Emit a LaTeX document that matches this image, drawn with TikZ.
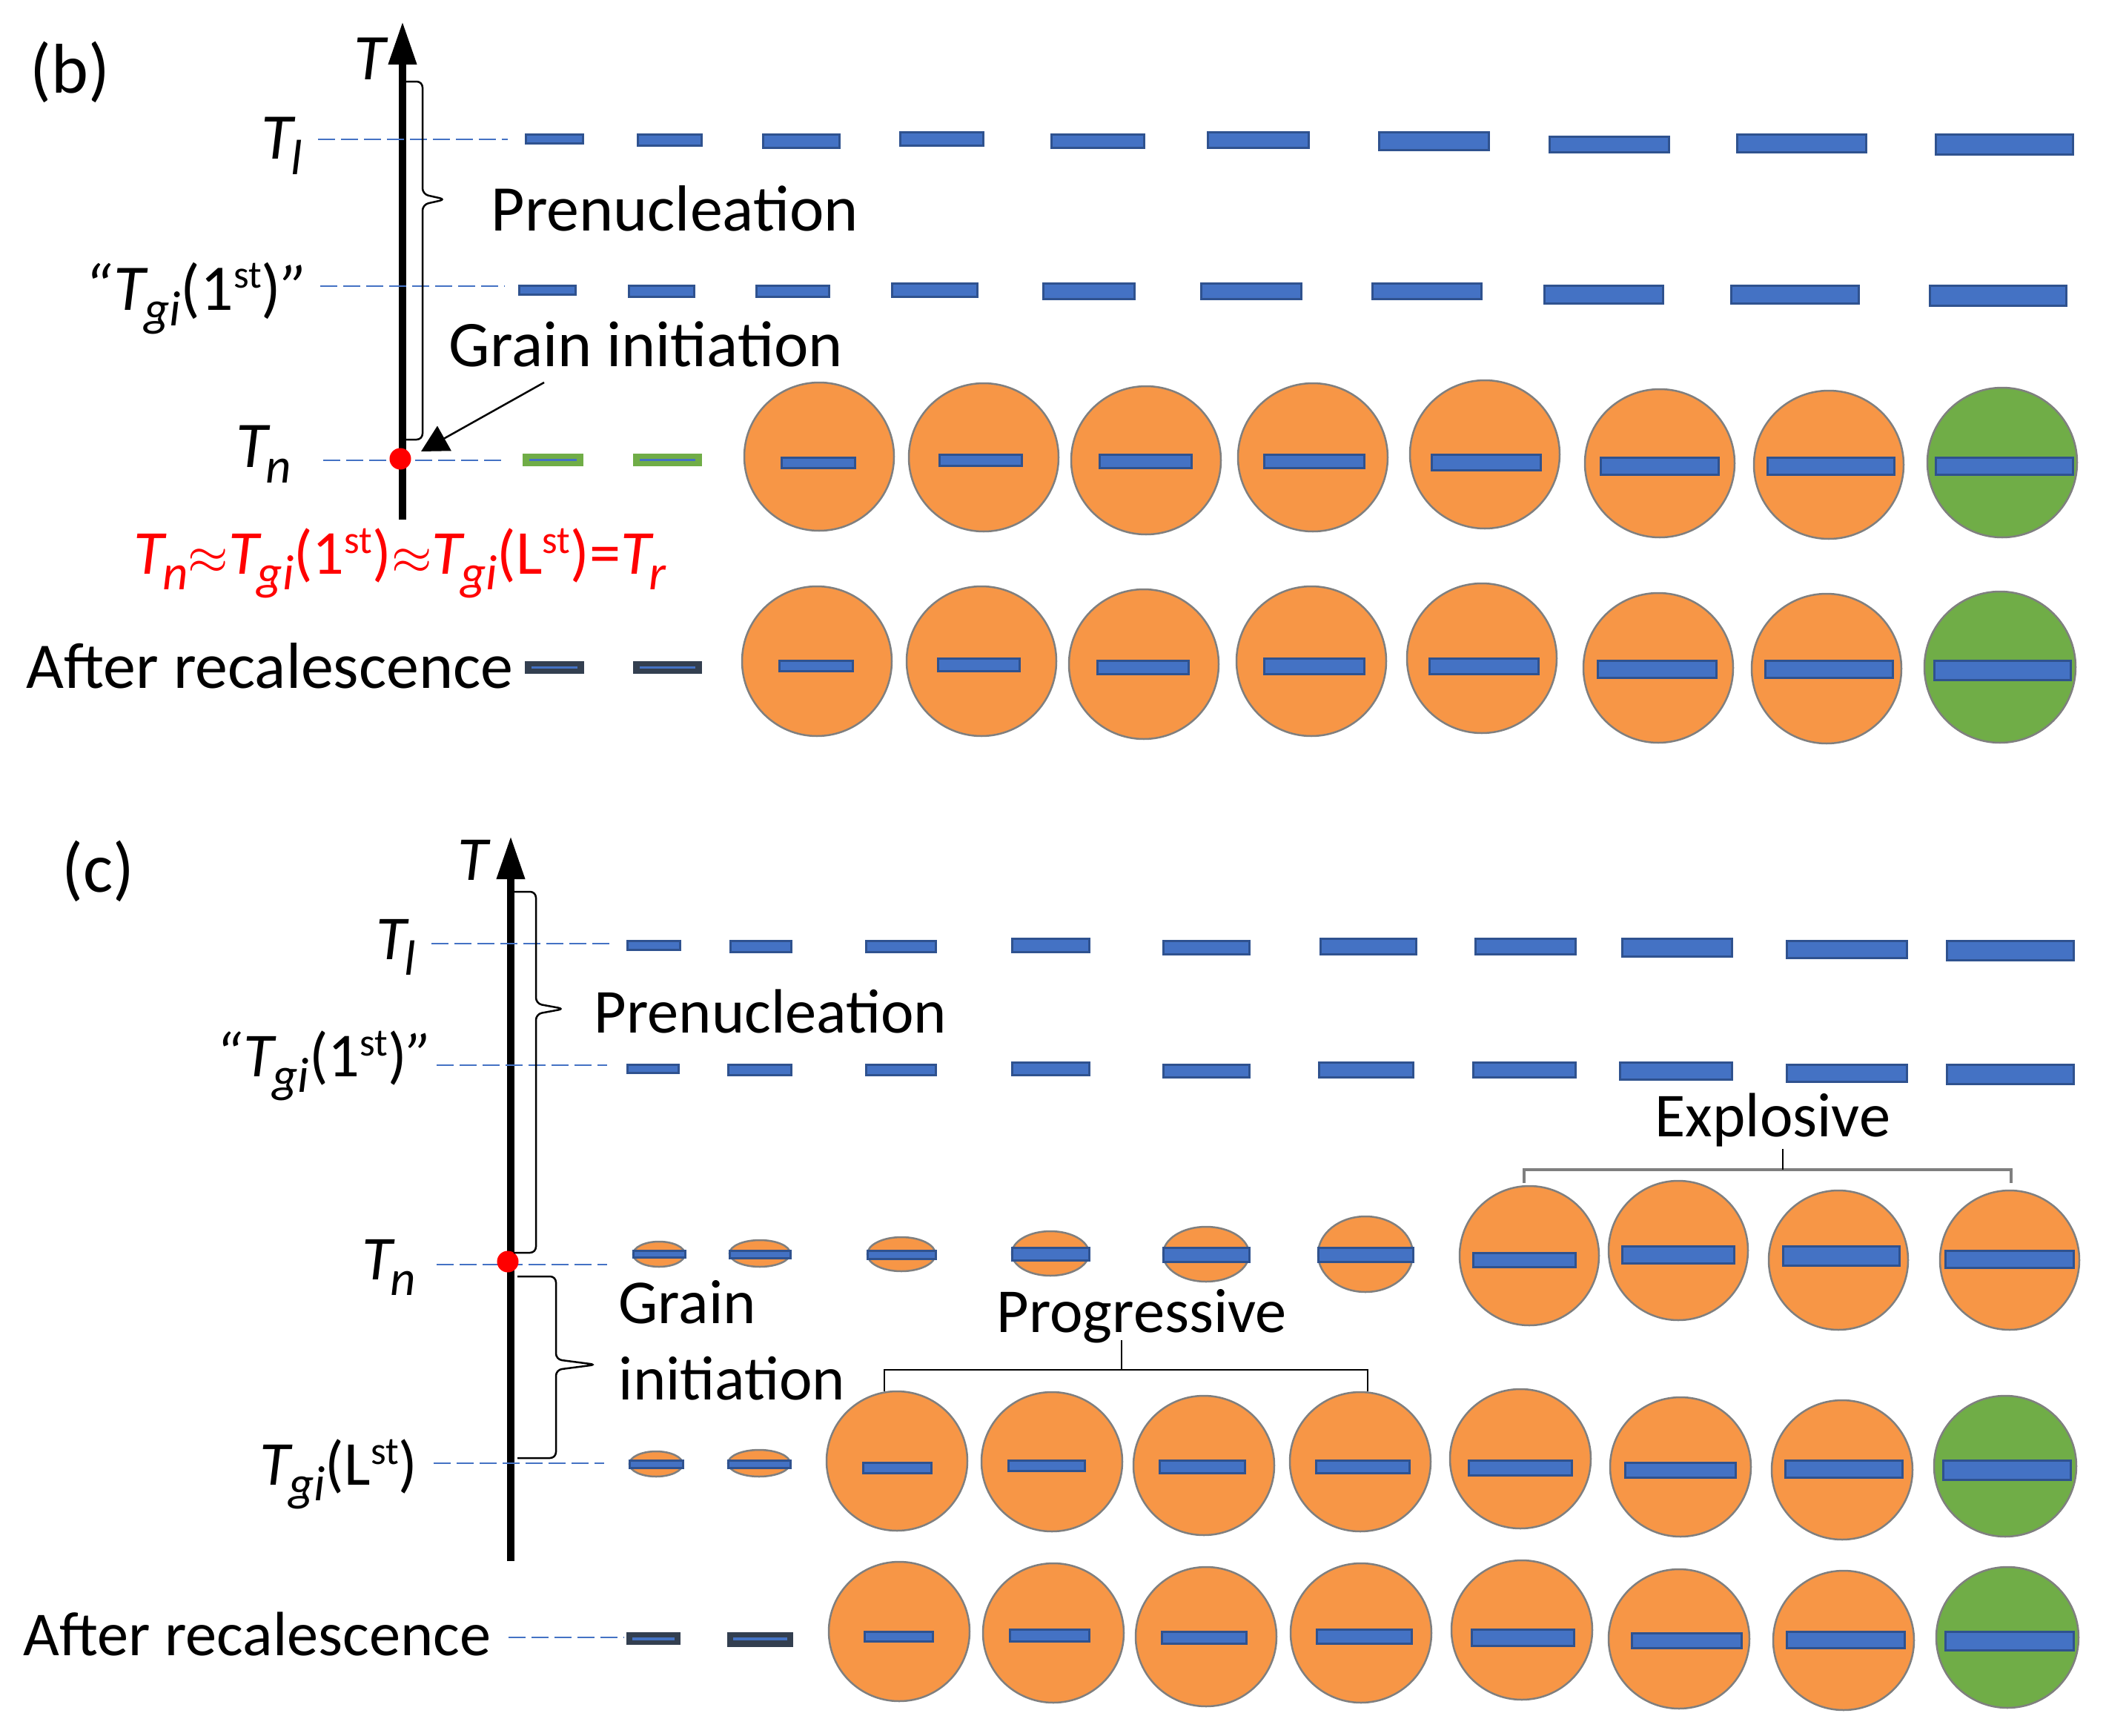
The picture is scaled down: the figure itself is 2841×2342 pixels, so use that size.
\documentclass[tikz,border=0pt]{standalone}
\usepackage{fontspec}
\setmainfont{Carlito}
\usepackage{tikz}
\usetikzlibrary{arrows.meta}
\usetikzlibrary{positioning}
\definecolor{barblue}{HTML}{4472C4}
\definecolor{barline}{HTML}{2F528F}
\definecolor{grainorange}{HTML}{F79646}
\definecolor{graingreen}{HTML}{70AD47}
\definecolor{darkbar}{HTML}{333F50}
\definecolor{rimgray}{HTML}{7F7F7F}
\tikzset{
	lbl/.style={font=\fontsize{24}{28}\selectfont, inner sep=0pt},
	lblb/.style={font=\fontsize{25}{30}\selectfont, inner sep=0pt},
	taxis/.style={draw=black, line width=1mm, -{Triangle[length=5.8mm, width=3.6mm]}},
	guide/.style={draw=barblue, line width=0.25mm, dash pattern=on 2.3mm off 0.8mm},
	cluster/.style={fill=barblue, draw=barline, line width=0.3mm},
	greenbar/.style={fill=graingreen, draw=graingreen, line width=0.2mm},
	darkclus/.style={fill=darkbar, draw=darkbar, line width=0.2mm},
	grain/.style={fill=grainorange, draw=rimgray, line width=0.25mm},
	greengrain/.style={fill=graingreen, draw=rimgray, line width=0.25mm},
	nucleus/.style={circle, fill=red, inner sep=0pt, minimum size=2.9mm},
	rbrace/.style={draw=black, line width=0.25mm, rounded corners=0.8mm},
	pointer/.style={draw=black, line width=0.25mm, -{Triangle[length=3.6mm, width=3.8mm]}},
	bracket/.style={draw=black, line width=0.25mm},
	graybracket/.style={draw=rimgray, line width=0.45mm},
}
\newcommand{\lowsub}[1]{\kern-0.07em\raisebox{-0.25em}{\fontsize{19}{19}\selectfont\itshape #1}}
\newcommand{\highsup}[1]{\raisebox{0.33em}{\fontsize{15}{15}\selectfont #1}}
\newcommand{\approxsign}{\scalebox{0.8}{$\approx$}}

\begin{document}
\begin{tikzpicture}[x=0.01cm, y=-0.01cm]
			\useasboundingbox (0,0) rectangle (2841,2342);
			% Panel (b): axis and labels
			\node[lbl, anchor=base west] (bPanel) at (40,126) {\fontsize{27}{32}\selectfont (b)};
			\coordinate (bAxisBot) at (543,701);
			\coordinate (bAxisTop) at (543,29);
			\draw[taxis] (bAxisBot) -- (bAxisTop);
			\node[lblb, anchor=base] (bT) at (501,107) {\textit{T}};
			\node[lblb, anchor=base east] (bTl) at (409,214) {\textit{T}\lowsub{l}};
			\node[lblb, anchor=base east] (bTgi) at (417,418) {\textit{“T}\lowsub{gi}(1\highsup{st})\textit{”}};
			\node[lblb, anchor=base east] (bTn) at (394,630) {\textit{T}\lowsub{n}};
			\node[lblb, anchor=base west] (bAfter) at (35,928) {After recalescence};
			\node[lbl, anchor=base west, text=red] (bRel) at (180,774)
				{\textit{T}\lowsub{n}\approxsign\textit{T}\lowsub{gi}(1\highsup{st})\approxsign\textit{T}\lowsub{gi}(L\highsup{st})=\textit{T}\lowsub{r}};
			\foreach \ya/\xa/\xb in {188/429/685, 386/432/681, 621/436/681}
				\draw[guide] (\xa,\ya) -- (\xb,\ya);
			\node[nucleus] (bDot) at (540,619) {};
			% Brace and pointer
			\coordinate (bBrTop) at (547,110);
			\coordinate (bBrBot) at (547,593);
			\draw[rbrace] (bBrTop) -| (570,262) -- (601,269) -- (570,276) |- (bBrBot);
			\node[lblb, anchor=base west] (bPre) at (662,311) {Prenucleation};
			\node[lblb, anchor=base west] (bGrain) at (605,494) {Grain initiation};
			\coordinate (bPtrTail) at (734,516);
			\coordinate (bPtrTip) at (568,609);
			\draw[pointer] (bPtrTail) -- (bPtrTip);
			% Panel (b): clusters at T_l and T_gi
			\foreach \xa/\ya/\xb/\yb in {709/181/786/193, 860/181/946/196, 1029/181/1132/199, 1214/178/1326/196, 1418/181/1543/199, 1629/178/1765/199, 1860/178/2008/202, 2090/184/2251/205, 2343/181/2517/205, 2611/181/2796/208}
				\draw[cluster] (\xa,\ya) rectangle (\xb,\yb);
			\foreach \xa/\ya/\xb/\yb in {700/385/776/397, 848/385/936/400, 1020/385/1118/400, 1203/382/1318/400, 1407/382/1530/403, 1620/382/1755/403, 1851/382/1998/403, 2083/385/2243/409, 2335/385/2507/409, 2603/385/2787/412}
				\draw[cluster] (\xa,\ya) rectangle (\xb,\yb);
			% Panel (b): grains at T_n
			\foreach \xa/\xb in {706/786, 855/946} {
				\draw[greenbar] (\xa,613) rectangle (\xb,628);
				\draw[draw=barblue, line width=0.3mm] (\xa+8,620.5) -- (\xb-8,620.5);
			}
			\foreach \cx/\cy/\xa/\ya/\xb/\yb in {1105/616/1054/617/1153/631, 1327/617/1267/613/1378/628, 1546/621/1483/613/1607/631, 1771/617/1705/613/1840/631, 2003/613/1931/613/2078/634, 2239/625/2159/617/2318/640, 2467/627/2384/617/2555/640} {
				\filldraw[grain] (\cx,\cy) ellipse [x radius=101, y radius=100];
				\draw[cluster] (\xa,\ya) rectangle (\xb,\yb);
			}
			\filldraw[greengrain] (2701,624) ellipse [x radius=101, y radius=101];
			\draw[cluster] (2611,617) rectangle (2796,640);
			% Panel (b): after recalescence
			\foreach \xa/\xb in {709/787, 855/946} {
				\draw[darkclus] (\xa,893) rectangle (\xb,908);
				\draw[draw=barblue, line width=0.3mm] (\xa+8,900.5) -- (\xb-8,900.5);
			}
			\foreach \cx/\cy/\xa/\ya/\xb/\yb in {1102/892/1051/891/1150/905, 1324/892/1265/888/1375/905, 1543/896/1480/891/1603/909, 1769/892/1705/888/1840/909, 1999/888/1928/888/2075/909, 2237/901/2155/891/2315/914, 2464/902/2381/891/2553/914} {
				\filldraw[grain] (\cx,\cy) ellipse [x radius=101, y radius=101];
				\draw[cluster] (\xa,\ya) rectangle (\xb,\yb);
			}
			\filldraw[greengrain] (2698,900) ellipse [x radius=102, y radius=102];
			\draw[cluster] (2609,891) rectangle (2793,917);

			% Panel (c): axis and labels
			\node[lbl, anchor=base west] (cPanel) at (83,1203) {\fontsize{27}{32}\selectfont (c)};
			\coordinate (cAxisBot) at (689,2106);
			\coordinate (cAxisTop) at (689,1128);
			\draw[taxis] (cAxisBot) -- (cAxisTop);
			\node[lbl, anchor=base] (cT) at (640,1187) {\textit{T}};
			\node[lbl, anchor=base east] (cTl) at (562,1294) {\textit{T}\lowsub{l}};
			\node[lbl, anchor=base east] (cTgi) at (585,1452) {\textit{“T}\lowsub{gi}(1\highsup{st})\textit{”}};
			\node[lbl, anchor=base east] (cTn) at (562,1726) {\textit{T}\lowsub{n}};
			\node[lbl, anchor=base east] (cTgl) at (564,2003) {\textit{T}\lowsub{gi}(L\highsup{st})};
			\node[lbl, anchor=base west] (cAfter) at (31,2233) {After recalescence};
			\foreach \ya/\xa/\xb in {1273/582/823, 1437/589/819, 1706/589/819, 1974/585/815, 2209/686/842}
				\draw[guide] (\xa,\ya) -- (\xb,\ya);
			\node[nucleus] (cDot) at (685,1702) {};
			% Braces
			\coordinate (cBrTop) at (693,1203);
			\coordinate (cBrMid) at (693,1690);
			\draw[rbrace] (cBrTop) -| (723,1354) -- (761,1361) -- (723,1368) |- (cBrMid);
			\coordinate (cBrLow) at (698,1722);
			\coordinate (cBrEnd) at (698,1967);
			\draw[rbrace] (cBrLow) -| (750,1834) -- (804,1841) -- (750,1848) |- (cBrEnd);
			\node[lbl, anchor=base west] (cPre) at (801,1393) {Prenucleation};
			\node[lbl, anchor=base west] (cGrain) at (834,1785) {Grain};
			\node[lbl, anchor=base west] (cInit) at (834,1888) {initiation};
			\node[lbl, anchor=base west] (cProg) at (1344,1797) {Progressive};
			\node[lbl, anchor=base west] (cExpl) at (2232,1533) {Explosive};
			\coordinate (cProgTick) at (1513,1808);
			\draw[bracket] (1193,1877) -- (1193,1848) -- (1845,1848) -- (1845,1877);
			\draw[bracket] (cProgTick) -- (1513,1848);
			\coordinate (cExplTick) at (2405,1550);
			\draw[graybracket] (2056,1596) -- (2056,1578) -- (2713,1578) -- (2713,1596);
			\draw[bracket] (cExplTick) -- (2405,1578);
			% Panel (c): clusters at T_l and T_gi
			\foreach \xa/\ya/\xb/\yb in {846/1269/917/1281, 985/1269/1067/1284, 1168/1269/1262/1284, 1365/1266/1469/1284, 1569/1269/1685/1287, 1781/1266/1910/1287, 1990/1266/2125/1287, 2188/1266/2336/1290, 2410/1269/2572/1292, 2626/1269/2797/1295}
				\draw[cluster] (\xa,\ya) rectangle (\xb,\yb);
			\foreach \xa/\ya/\xb/\yb in {846/1436/915/1447, 982/1436/1067/1450, 1168/1436/1262/1450, 1365/1433/1469/1450, 1569/1436/1685/1453, 1779/1433/1906/1453, 1987/1433/2125/1453, 2185/1433/2336/1456, 2410/1436/2572/1459, 2626/1436/2797/1462}
				\draw[cluster] (\xa,\ya) rectangle (\xb,\yb);
			% Panel (c): growing grains at T_n
			\foreach \cx/\cy/\rx/\ry/\ya/\yb in {889/1692/35/17/1687/1696, 1025/1691/41/18/1687/1697, 1216/1692/46/23/1687/1698, 1417/1691/52/30/1683/1700, 1627/1692/58/37/1683/1702, 1842/1692/64/51/1683/1702} {
				\filldraw[grain] (\cx,\cy) ellipse [x radius=\rx, y radius=\ry];
				\draw[cluster] (\cx-\rx,\ya) rectangle (\cx+\rx,\yb);
			}
			\foreach \cx/\cy/\xa/\ya/\xb/\yb in {2063/1694/1987/1690/2125/1709, 2264/1687/2188/1681/2339/1704, 2480/1700/2405/1681/2562/1707, 2711/1700/2624/1687/2797/1710} {
				\filldraw[grain] (\cx,\cy) ellipse [x radius=94, y radius=94];
				\draw[cluster] (\xa,\ya) rectangle (\xb,\yb);
			}
			% Panel (c): grains at T_gi(L)
			\foreach \cx/\cy/\rx/\ry in {885/1975/36/17, 1024/1974/42/18} {
				\filldraw[grain] (\cx,\cy) ellipse [x radius=\rx, y radius=\ry];
				\draw[cluster] (\cx-\rx,1970) rectangle (\cx+\rx,1980);
			}
			\foreach \cx/\cy/\xa/\ya/\xb/\yb in {1210/1971/1164/1973/1256/1987, 1419/1972/1360/1970/1463/1984, 1624/1977/1564/1970/1679/1987, 1835/1972/1775/1970/1901/1987, 2051/1968/1981/1970/2120/1990, 2267/1979/2192/1973/2341/1993, 2485/1983/2408/1970/2566/1993} {
				\filldraw[grain] (\cx,\cy) ellipse [x radius=95, y radius=94];
				\draw[cluster] (\xa,\ya) rectangle (\xb,\yb);
			}
			\filldraw[greengrain] (2705,1978) ellipse [x radius=96, y radius=95];
			\draw[cluster] (2621,1970) rectangle (2793,1996);
			% Panel (c): after recalescence
			\foreach \xa/\xb/\yb in {846/917/2218, 982/1069/2221} {
				\draw[darkclus] (\xa,2203) rectangle (\xb,\yb);
				\draw[draw=barblue, line width=0.4mm] (\xa+7,2211) -- (\xb-7,2211);
			}
			\foreach \cx/\cy/\xa/\ya/\xb/\yb in {1213/2201/1166/2201/1258/2214, 1421/2203/1362/2198/1469/2214, 1627/2208/1567/2201/1681/2217, 1836/2203/1776/2198/1904/2217, 2053/2199/1985/2198/2123/2220, 2265/2211/2201/2203/2349/2223, 2487/2213/2410/2201/2569/2223} {
				\filldraw[grain] (\cx,\cy) ellipse [x radius=95, y radius=94];
				\draw[cluster] (\xa,\ya) rectangle (\xb,\yb);
			}
			\filldraw[greengrain] (2708,2209) ellipse [x radius=96, y radius=95];
			\draw[cluster] (2624,2201) rectangle (2797,2226);
		\end{tikzpicture}
\end{document}
